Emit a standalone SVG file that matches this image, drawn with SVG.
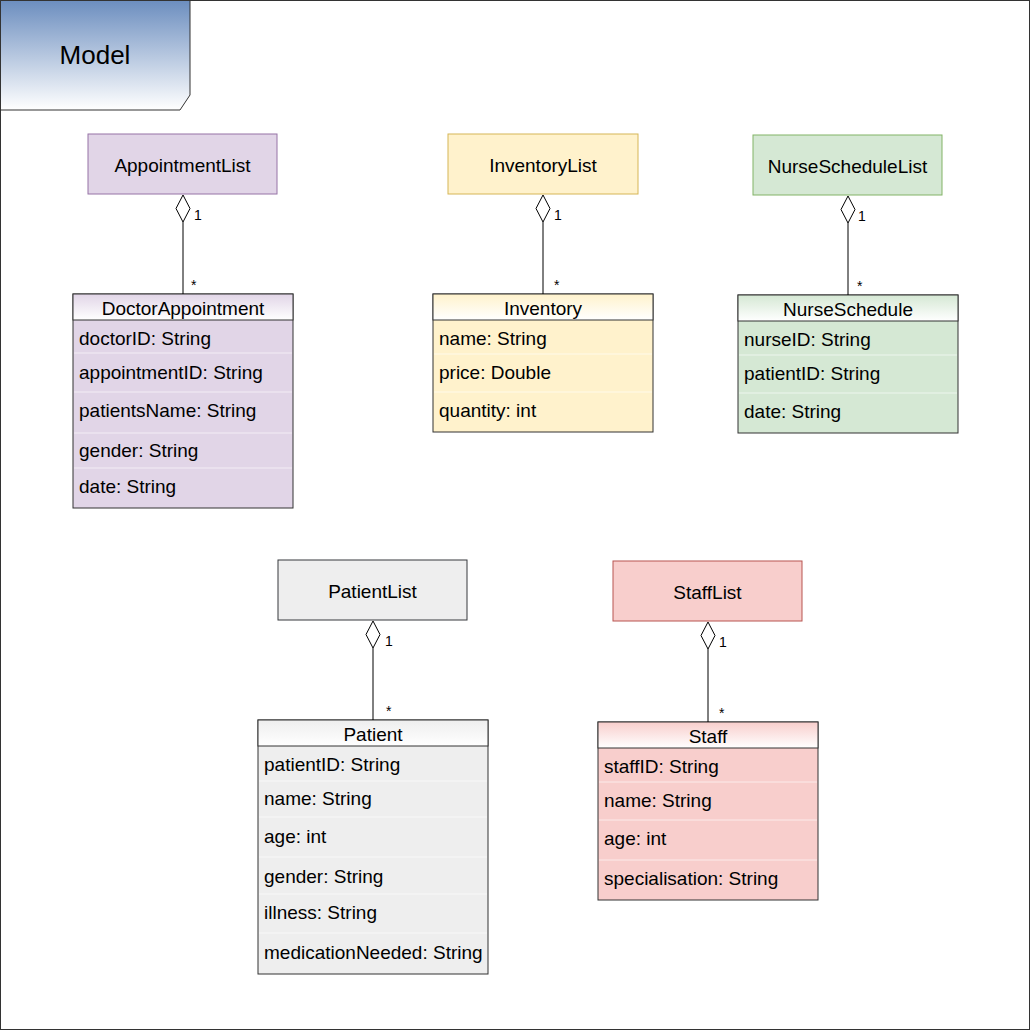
<svg xmlns="http://www.w3.org/2000/svg" width="1031" height="1031" viewBox="0 0 1031 1031">
<defs>
<linearGradient id="gModel" x1="0" y1="0" x2="0" y2="1"><stop offset="0" stop-color="#6c8ebf"/><stop offset="1" stop-color="#ffffff"/></linearGradient>
<linearGradient id="gPurple" x1="0" y1="0" x2="0" y2="1"><stop offset="0" stop-color="#e1d5e7"/><stop offset="1" stop-color="#ffffff"/></linearGradient>
<linearGradient id="gYellow" x1="0" y1="0" x2="0" y2="1"><stop offset="0" stop-color="#fff2cc"/><stop offset="1" stop-color="#ffffff"/></linearGradient>
<linearGradient id="gGreen" x1="0" y1="0" x2="0" y2="1"><stop offset="0" stop-color="#d5e8d4"/><stop offset="1" stop-color="#ffffff"/></linearGradient>
<linearGradient id="gGray" x1="0" y1="0" x2="0" y2="1"><stop offset="0" stop-color="#eeeeee"/><stop offset="1" stop-color="#ffffff"/></linearGradient>
<linearGradient id="gRed" x1="0" y1="0" x2="0" y2="1"><stop offset="0" stop-color="#f8cecc"/><stop offset="1" stop-color="#ffffff"/></linearGradient>
</defs>
<style>
text{font-family:"Liberation Sans",Arial,sans-serif;fill:#000;}
.lbl{font-size:19px;text-anchor:middle;dominant-baseline:central;}
.attr{font-size:19px;dominant-baseline:central;}
.mult{font-size:14px;}
.box{stroke:#333333;stroke-width:1;}
.sep{stroke:#ffffff;stroke-opacity:0.6;stroke-width:1;}
.conn line{stroke:#000;stroke-width:1;}
.conn polygon{fill:#fff;stroke:#000;stroke-width:1;}
</style>
<rect x="0.5" y="0.5" width="1029" height="1029" fill="#ffffff" stroke="#333333"/>
<g id="model">
<polygon points="0.5,0.5 190,0.5 190,95 180,110 0.5,110" fill="url(#gModel)" stroke="#333333"/>
<text x="95" y="55" style="font-size:26px;text-anchor:middle;dominant-baseline:central;">Model</text>
</g>

<g id="AppointmentList"><rect x="88" y="134" width="189" height="60" fill="#e1d5e7" stroke="#9673a6"/><text class="lbl" x="182.5" y="165">AppointmentList</text></g>
<g id="InventoryList"><rect x="448" y="134" width="190" height="60" fill="#fff2cc" stroke="#d6b656"/><text class="lbl" x="543" y="165">InventoryList</text></g>
<g id="NurseScheduleList"><rect x="753" y="135" width="189" height="60" fill="#d5e8d4" stroke="#82b366"/><text class="lbl" x="847.5" y="166">NurseScheduleList</text></g>
<g id="PatientList"><rect x="278" y="560" width="189" height="60" fill="#eeeeee" stroke="#36393d"/><text class="lbl" x="372.5" y="591">PatientList</text></g>
<g id="StaffList"><rect x="613" y="561" width="189" height="60" fill="#f8cecc" stroke="#b85450"/><text class="lbl" x="707.5" y="592">StaffList</text></g>

<g id="DoctorAppointment">
<rect class="box" x="73" y="294" width="220" height="214" fill="#e1d5e7"/>
<rect class="box" x="73" y="294" width="220" height="26" fill="url(#gPurple)"/>
<line class="sep" x1="74" y1="353" x2="292" y2="353"/><line class="sep" x1="74" y1="392" x2="292" y2="392"/><line class="sep" x1="74" y1="433" x2="292" y2="433"/><line class="sep" x1="74" y1="468" x2="292" y2="468"/>
<text class="lbl" x="183" y="308">DoctorAppointment</text>
<text class="attr" x="79" y="338">doctorID: String</text>
<text class="attr" x="79" y="372">appointmentID: String</text>
<text class="attr" x="79" y="410">patientsName: String</text>
<text class="attr" x="79" y="450">gender: String</text>
<text class="attr" x="79" y="486">date: String</text>
</g>

<g id="Inventory">
<rect class="box" x="433" y="294" width="220" height="138" fill="#fff2cc"/>
<rect class="box" x="433" y="294" width="220" height="26" fill="url(#gYellow)"/>
<line class="sep" x1="434" y1="354" x2="652" y2="354"/><line class="sep" x1="434" y1="392" x2="652" y2="392"/>
<text class="lbl" x="543" y="308">Inventory</text>
<text class="attr" x="439" y="338">name: String</text>
<text class="attr" x="439" y="372">price: Double</text>
<text class="attr" x="439" y="410">quantity: int</text>
</g>

<g id="NurseSchedule">
<rect class="box" x="738" y="295" width="220" height="138" fill="#d5e8d4"/>
<rect class="box" x="738" y="295" width="220" height="26" fill="url(#gGreen)"/>
<line class="sep" x1="739" y1="355" x2="957" y2="355"/><line class="sep" x1="739" y1="393" x2="957" y2="393"/>
<text class="lbl" x="848" y="309">NurseSchedule</text>
<text class="attr" x="744" y="339">nurseID: String</text>
<text class="attr" x="744" y="373">patientID: String</text>
<text class="attr" x="744" y="411">date: String</text>
</g>

<g id="Patient">
<rect class="box" x="258" y="720" width="230" height="254" fill="#eeeeee"/>
<rect class="box" x="258" y="720" width="230" height="26" fill="url(#gGray)"/>
<line class="sep" x1="259" y1="781" x2="487" y2="781"/><line class="sep" x1="259" y1="817" x2="487" y2="817"/><line class="sep" x1="259" y1="857" x2="487" y2="857"/><line class="sep" x1="259" y1="894" x2="487" y2="894"/><line class="sep" x1="259" y1="933" x2="487" y2="933"/>
<text class="lbl" x="373" y="734">Patient</text>
<text class="attr" x="264" y="764">patientID: String</text>
<text class="attr" x="264" y="798">name: String</text>
<text class="attr" x="264" y="836">age: int</text>
<text class="attr" x="264" y="876">gender: String</text>
<text class="attr" x="264" y="912">illness: String</text>
<text class="attr" x="264" y="952">medicationNeeded: String</text>
</g>

<g id="Staff">
<rect class="box" x="598" y="722" width="220" height="178" fill="#f8cecc"/>
<rect class="box" x="598" y="722" width="220" height="26" fill="url(#gRed)"/>
<line class="sep" x1="599" y1="782" x2="817" y2="782"/><line class="sep" x1="599" y1="820" x2="817" y2="820"/><line class="sep" x1="599" y1="860" x2="817" y2="860"/>
<text class="lbl" x="708" y="736">Staff</text>
<text class="attr" x="604" y="766">staffID: String</text>
<text class="attr" x="604" y="800">name: String</text>
<text class="attr" x="604" y="838">age: int</text>
<text class="attr" x="604" y="878">specialisation: String</text>
</g>

<g id="connectors" class="conn">
<line x1="183" y1="222" x2="183" y2="294"/><polygon points="183,195 190,208.5 183,222 176,208.5"/>
<text class="mult" x="194" y="220">1</text><text class="mult" x="191" y="290">*</text>
<line x1="543" y1="222" x2="543" y2="294"/><polygon points="543,195 550,208.5 543,222 536,208.5"/>
<text class="mult" x="554" y="220">1</text><text class="mult" x="554" y="290">*</text>
<line x1="848" y1="223" x2="848" y2="295"/><polygon points="848,196 855,209.5 848,223 841,209.5"/>
<text class="mult" x="858" y="221">1</text><text class="mult" x="857" y="291">*</text>
<line x1="373" y1="648" x2="373" y2="720"/><polygon points="373,621 380,634.5 373,648 366,634.5"/>
<text class="mult" x="385" y="646">1</text><text class="mult" x="386" y="716">*</text>
<line x1="708" y1="649" x2="708" y2="722"/><polygon points="708,622 715,635.5 708,649 701,635.5"/>
<text class="mult" x="719" y="647">1</text><text class="mult" x="719" y="718">*</text>
</g>
</svg>
